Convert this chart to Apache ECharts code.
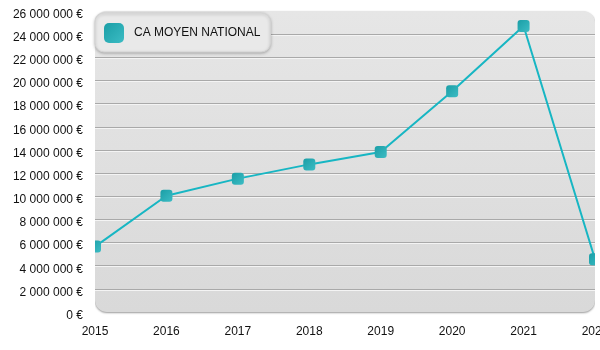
<!DOCTYPE html>
<html><head><meta charset="utf-8">
<script src="https://cdn.jsdelivr.net/npm/echarts@6/dist/echarts.min.js"></script>
<style>html,body{margin:0;padding:0;background:#fff}#c{width:600px;height:350px}</style>
</head><body><div id="c"></div>
<script>
var categories = ['2015','2016','2017','2018','2019','2020','2021','2022'];
var seriesName = 'CA MOYEN NATIONAL';
var values = [5650000, 10040000, 11520000, 12750000, 13830000, 19070000, 24710000, 4560000];
var yMax = 26000000, yStep = 2000000;

function fmt(v){ return String(v).replace(/\B(?=(\d{3})+(?!\d))/g, ' ') + ' €'; }

var chart = echarts.init(document.getElementById('c'), null, {renderer:'canvas'});
var W = 600, H = 350;
var G = {left:95, right:5, top:11, bottom:38};
chart.setOption({
  animation:false,
  textStyle:{fontFamily:'Liberation Sans, Arial, sans-serif'},
  graphic:[
    {type:'rect', z:-10, silent:true,
      shape:{x:G.left, y:G.top, width:W-G.left-G.right, height:H-G.top-G.bottom, r:12},
      style:{fill:new echarts.graphic.LinearGradient(0,0,0,1,[{offset:0,color:'#e6e6e6'},{offset:1,color:'#d9d9d9'}]),
        shadowBlur:2, shadowColor:'rgba(0,0,0,0.4)', shadowOffsetY:1}},
    {type:'rect', z:100, silent:true,
      shape:{x:G.left-10, y:0, width:10, height:H-G.bottom+4}, style:{fill:'#fff'}},
    {type:'rect', z:100, silent:true,
      shape:{x:W-G.right, y:0, width:G.right, height:H-G.bottom+4}, style:{fill:'#fff'}}
  ],
  legend:{left:G.left, top:G.top+2, orient:'horizontal',
    backgroundColor:'#e9e9e9', borderRadius:9, borderColor:'#d4d4d4', borderWidth:1,
    shadowBlur:3, shadowColor:'rgba(0,0,0,0.25)', shadowOffsetY:1,
    padding:[10,10,9,9], itemWidth:20, itemHeight:20, itemGap:10,
    icon:'roundRect', z:110,
    textStyle:{fontSize:12, color:'#111', padding:[0,0,0,5], fontFamily:'Liberation Sans, Arial, sans-serif'},
    data:[seriesName]},
  grid:{left:G.left, right:G.right, top:G.top, bottom:G.bottom, containLabel:false, outerBoundsMode:'none'},
  xAxis:{type:'category', data:categories, boundaryGap:false,
    axisLine:{show:false}, axisTick:{show:false},
    axisLabel:{color:'#111', fontSize:12, margin:14}},
  yAxis:{type:'value', min:0, max:yMax, interval:yStep,
    axisLine:{show:false}, axisTick:{show:false},
    axisLabel:{color:'#111', fontSize:12, margin:12, verticalAlign:'top', lineHeight:7, formatter:fmt},
    splitLine:{showMaxLine:false, showMinLine:false,
      lineStyle:{color:'#a9a9a9', width:1, shadowColor:'#f4f4f4', shadowOffsetY:1}}},
  series:[{name:seriesName, type:'line', data:values,
    symbol:'roundRect', symbolSize:12, showAllSymbol:true,
    lineStyle:{color:'#17b6c3', width:2},
    itemStyle:{color:new echarts.graphic.LinearGradient(0,0,1,1,[{offset:0,color:'#1a9ea6'},{offset:1,color:'#3cbcc4'}])}
  }]
});
</script></body></html>
